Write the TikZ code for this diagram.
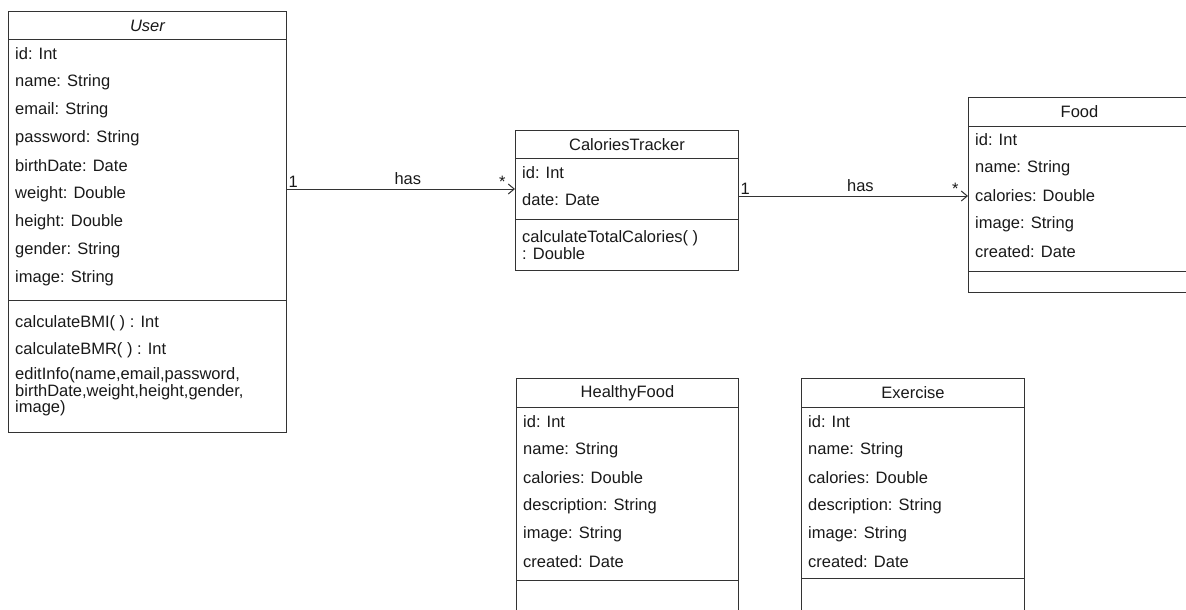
\documentclass[tikz,border=0pt]{standalone}
\usepackage{fontspec}
\setmainfont{Liberation Sans}
\usetikzlibrary{arrows.meta}

\tikzstyle{box} = [draw = black!80, line width = 1pt, anchor = north west, inner sep = 0pt]
\tikzstyle{row} = [anchor = west, inner sep = 0pt, align = left]
\tikzstyle{assoc} = [-{Straight Barb[length=6pt,width=10pt]}, draw = black!80, line width = 1pt]
\tikzstyle{mult} = [inner sep = 1pt]

\begin{document}
\begin{tikzpicture}[x = 1pt, y = -1pt, font = \fontsize{16.5}{15}\selectfont, text = black!90]
		\useasboundingbox (0,0) rectangle (1186,610);
		\clip (0,0) rectangle (1186,610);

		% User
		\node [box, minimum width = 278pt, minimum height = 28pt, font = \fontsize{16.5}{15}\selectfont\itshape] at (8, 11) (userhead) {User};
		\node [box, minimum width = 278pt, minimum height = 261pt] at (8, 39) (userattr) {};
		\node [box, minimum width = 278pt, minimum height = 132pt] at (8, 300) (usermeth) {};
		\node [row] at (15, 54) (u1) {id: Int};
		\node [row] at (15, 82) (u2) {name: String};
		\node [row] at (15, 110) (u3) {email: String};
		\node [row] at (15, 138) (u4) {password: String};
		\node [row] at (15, 166) (u5) {birthDate: Date};
		\node [row] at (15, 194) (u6) {weight: Double};
		\node [row] at (15, 222) (u7) {height: Double};
		\node [row] at (15, 250) (u8) {gender: String};
		\node [row] at (15, 278) (u9) {image: String};
		\node [row] at (15, 323) (um1) {calculateBMI( ) : Int};
		\node [row] at (15, 350) (um2) {calculateBMR( ) : Int};
		\node [row] at (15, 392) (um3) {editInfo(name,email,password,\\birthDate,weight,height,gender,\\image)};

		% CaloriesTracker
		\node [box, minimum width = 223pt, minimum height = 28pt] at (515, 130) (trackhead) {CaloriesTracker};
		\node [box, minimum width = 223pt, minimum height = 61pt] at (515, 158) (trackattr) {};
		\node [box, minimum width = 223pt, minimum height = 51pt] at (515, 219) (trackmeth) {};
		\node [row] at (522, 173) (t1) {id: Int};
		\node [row] at (522, 200) (t2) {date: Date};
		\node [row] at (522, 245) (tm1) {calculateTotalCalories( )\\: Double};

		% Food
		\node [box, minimum width = 222pt, minimum height = 29pt] at (968, 97) (foodhead) {Food};
		\node [box, minimum width = 222pt, minimum height = 145pt] at (968, 126) (foodattr) {};
		\node [box, minimum width = 222pt, minimum height = 21pt] at (968, 271) (foodmeth) {};
		\node [row] at (975, 140) (f1) {id: Int};
		\node [row] at (975, 168) (f2) {name: String};
		\node [row] at (975, 196) (f3) {calories: Double};
		\node [row] at (975, 224) (f4) {image: String};
		\node [row] at (975, 252) (f5) {created: Date};

		% HealthyFood
		\node [box, minimum width = 222pt, minimum height = 29pt] at (516, 378) (healthyhead) {HealthyFood};
		\node [box, minimum width = 222pt, minimum height = 173pt] at (516, 407) (healthyattr) {};
		\node [box, minimum width = 222pt, minimum height = 60pt] at (516, 580) (healthymeth) {};
		\node [row] at (523, 422) (h1) {id: Int};
		\node [row] at (523, 450) (h2) {name: String};
		\node [row] at (523, 478) (h3) {calories: Double};
		\node [row] at (523, 506) (h4) {description: String};
		\node [row] at (523, 534) (h5) {image: String};
		\node [row] at (523, 562) (h6) {created: Date};

		% Exercise
		\node [box, minimum width = 223pt, minimum height = 29pt] at (801, 378) (exhead) {Exercise};
		\node [box, minimum width = 223pt, minimum height = 171pt] at (801, 407) (exattr) {};
		\node [box, minimum width = 223pt, minimum height = 60pt] at (801, 578) (exmeth) {};
		\node [row] at (808, 422) (e1) {id: Int};
		\node [row] at (808, 450) (e2) {name: String};
		\node [row] at (808, 478) (e3) {calories: Double};
		\node [row] at (808, 506) (e4) {description: String};
		\node [row] at (808, 534) (e5) {image: String};
		\node [row] at (808, 562) (e6) {created: Date};

		% associations
		\draw [assoc] (userattr.east |- trackattr.west) -- node [mult, pos = 0, anchor = south west] {1} node [pos = 0.53, above, inner sep = 4pt] {has} node [mult, pos = 1, anchor = south east, xshift = -8pt] {*} (trackattr.west);
		\draw [assoc] (trackattr.east |- f3.west) -- node [mult, pos = 0, anchor = south west] {1} node [pos = 0.53, above, inner sep = 4pt] {has} node [mult, pos = 1, anchor = south east, xshift = -8pt] {*} (foodattr.west |- f3.west);
	\end{tikzpicture}
\end{document}
